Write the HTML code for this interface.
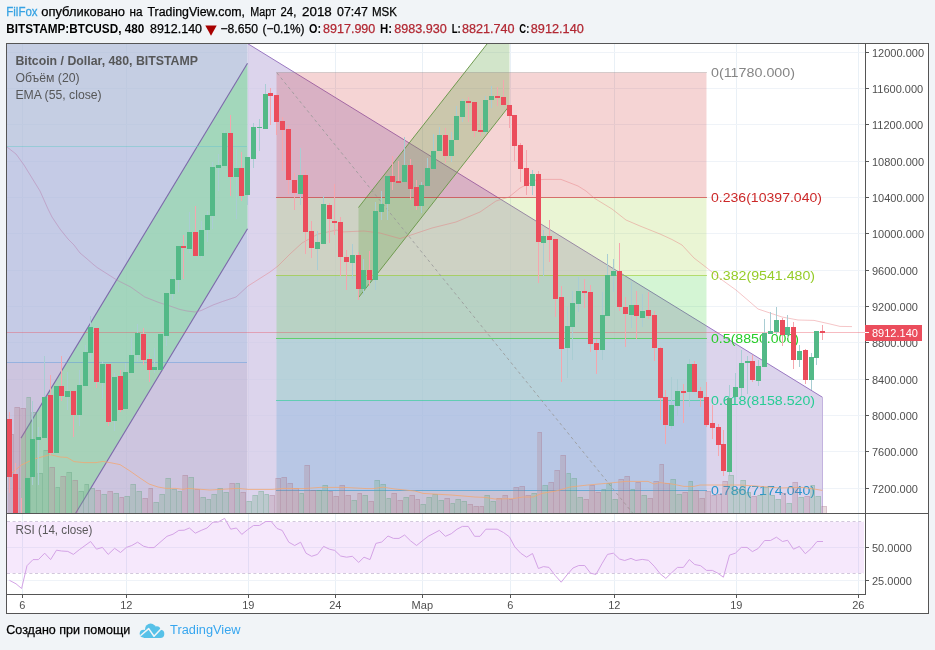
<!DOCTYPE html>
<html><head><meta charset="utf-8"><title>BTCUSD</title>
<style>html,body{margin:0;padding:0;background:#f1f4f7;}body{width:935px;height:650px;overflow:hidden;font-family:"Liberation Sans",sans-serif;}</style></head>
<body>
<svg width="935" height="650" viewBox="0 0 935 650" style="display:block;font-family:'Liberation Sans',sans-serif;opacity:0.999;will-change:transform">
<defs>
<clipPath id="mp"><rect x="7" y="44" width="858" height="469"/></clipPath>
<clipPath id="rp"><rect x="7" y="514" width="858" height="80"/></clipPath>
</defs>
<rect width="935" height="650" fill="#f1f4f7"/>
<rect x="6.5" y="43.5" width="922" height="570" fill="#ffffff" stroke="#555555" stroke-width="1"/>
<g clip-path="url(#mp)">
<g shape-rendering="crispEdges">
<rect x="22" y="44" width="1" height="469" fill="#e9f0f6"/>
<rect x="126" y="44" width="1" height="469" fill="#e9f0f6"/>
<rect x="248" y="44" width="1" height="469" fill="#e9f0f6"/>
<rect x="335" y="44" width="1" height="469" fill="#e9f0f6"/>
<rect x="422" y="44" width="1" height="469" fill="#e9f0f6"/>
<rect x="510" y="44" width="1" height="469" fill="#e9f0f6"/>
<rect x="614" y="44" width="1" height="469" fill="#e9f0f6"/>
<rect x="736" y="44" width="1" height="469" fill="#e9f0f6"/>
<rect x="858" y="44" width="1" height="469" fill="#e9f0f6"/>
<rect x="7" y="52" width="858" height="1" fill="#eff3f8"/>
<rect x="7" y="88" width="858" height="1" fill="#eff3f8"/>
<rect x="7" y="124" width="858" height="1" fill="#eff3f8"/>
<rect x="7" y="161" width="858" height="1" fill="#eff3f8"/>
<rect x="7" y="197" width="858" height="1" fill="#eff3f8"/>
<rect x="7" y="233" width="858" height="1" fill="#eff3f8"/>
<rect x="7" y="270" width="858" height="1" fill="#eff3f8"/>
<rect x="7" y="306" width="858" height="1" fill="#eff3f8"/>
<rect x="7" y="342" width="858" height="1" fill="#eff3f8"/>
<rect x="7" y="379" width="858" height="1" fill="#eff3f8"/>
<rect x="7" y="415" width="858" height="1" fill="#eff3f8"/>
<rect x="7" y="451" width="858" height="1" fill="#eff3f8"/>
<rect x="7" y="488" width="858" height="1" fill="#eff3f8"/>
</g>
<rect x="0" y="0" width="247.5" height="146.5" fill="rgba(172,185,215,0.7)"/>
<rect x="0" y="146.5" width="247.5" height="216" fill="rgba(172,181,219,0.7)"/>
<rect x="0" y="362.5" width="247.5" height="200" fill="rgba(184,172,209,0.7)"/>
<polygon points="247.5,43.5 822.5,397.3 822.5,700 247.5,700" fill="rgba(205,194,228,0.7)"/>
<line x1="247.5" y1="43.5" x2="822.5" y2="397.3" stroke="#9a78c2" stroke-width="1"/>
<line x1="822.5" y1="397.3" x2="822.5" y2="700" stroke="#c3b3df" stroke-width="1"/>
<rect x="276.5" y="72.5" width="430.0" height="125.0" fill="rgba(204,40,40,0.2)"/>
<rect x="276.5" y="197.5" width="430.0" height="78.0" fill="rgba(149,204,40,0.2)"/>
<rect x="276.5" y="275.5" width="430.0" height="63.0" fill="rgba(40,204,40,0.2)"/>
<rect x="276.5" y="338.5" width="430.0" height="62.0" fill="rgba(40,204,149,0.2)"/>
<rect x="276.5" y="400.5" width="430.0" height="90.0" fill="rgba(40,149,204,0.2)"/>
<rect x="276.5" y="490.5" width="430.0" height="114.0" fill="rgba(128,128,128,0.2)"/>
<polygon points="21,438.1 247.5,63.3 247.5,228.8 21,603.7" fill="rgba(129,223,148,0.5)"/>
<polygon points="358.5,207.5 509.5,15.4 509.5,105.6 358.5,297.6" fill="rgba(106,168,79,0.3)"/>
<line x1="21" y1="438.1" x2="247.5" y2="63.3" stroke="#7c69aa" stroke-width="1.1"/>
<line x1="21" y1="603.7" x2="247.5" y2="228.8" stroke="#7c69aa" stroke-width="1.1"/>
<line x1="358.5" y1="207.5" x2="509.5" y2="15.4" stroke="#6f9a4f" stroke-width="1"/>
<line x1="358.5" y1="297.6" x2="509.5" y2="105.6" stroke="#6f9a4f" stroke-width="1"/>
<g shape-rendering="crispEdges">
<rect x="7" y="146" width="240" height="1" fill="rgba(110,195,200,0.55)"/>
<rect x="7" y="362" width="240" height="1" fill="rgba(90,150,215,0.5)"/>
<rect x="276" y="72" width="431" height="1" fill="rgba(128,128,128,0.3)"/>
<rect x="276" y="197" width="431" height="1" fill="rgba(204,40,40,0.6)"/>
<rect x="276" y="275" width="431" height="1" fill="rgba(149,204,40,0.6)"/>
<rect x="276" y="338" width="431" height="1" fill="rgba(40,204,40,0.6)"/>
<rect x="276" y="400" width="431" height="1" fill="rgba(40,204,149,0.6)"/>
<rect x="276" y="490" width="431" height="1" fill="rgba(40,149,204,0.6)"/>
</g>
<line x1="277" y1="73" x2="706.5" y2="604.5" stroke="#9a9a9a" stroke-opacity="0.85" stroke-width="1" stroke-dasharray="3,3"/>
<text x="711" y="76.8" font-size="13px" fill="#858585" textLength="84" lengthAdjust="spacingAndGlyphs">0(11780.000)</text>
<text x="711" y="201.8" font-size="13px" fill="#cc2828" textLength="111" lengthAdjust="spacingAndGlyphs">0.236(10397.040)</text>
<text x="711" y="279.8" font-size="13px" fill="#95cc28" textLength="104" lengthAdjust="spacingAndGlyphs">0.382(9541.480)</text>
<text x="711" y="342.8" font-size="13px" fill="#28cc28" textLength="88" lengthAdjust="spacingAndGlyphs">0.5(8850.000)</text>
<text x="711" y="404.8" font-size="13px" fill="#28cc95" textLength="104" lengthAdjust="spacingAndGlyphs">0.618(8158.520)</text>
<text x="711" y="494.8" font-size="13px" fill="#2895cc" textLength="104" lengthAdjust="spacingAndGlyphs">0.786(7174.040)</text>
<g shape-rendering="crispEdges">
<rect x="8" y="434" width="6" height="79" fill="rgba(178,137,146,0.3)"/>
<path d="M8.5,434.5H13.5V513" fill="none" stroke="rgba(160,100,130,0.22)" stroke-width="1"/>
<rect x="14" y="407" width="6" height="106" fill="rgba(178,137,146,0.3)"/>
<path d="M14.5,407.5H19.5V513" fill="none" stroke="rgba(160,100,130,0.22)" stroke-width="1"/>
<rect x="20" y="408" width="6" height="105" fill="rgba(178,137,146,0.3)"/>
<path d="M20.5,408.5H25.5V513" fill="none" stroke="rgba(160,100,130,0.22)" stroke-width="1"/>
<rect x="26" y="397" width="5" height="116" fill="rgba(115,174,136,0.3)"/>
<path d="M26.5,397.5H30.5V513" fill="none" stroke="rgba(80,150,120,0.22)" stroke-width="1"/>
<rect x="31" y="412" width="6" height="101" fill="rgba(115,174,136,0.3)"/>
<path d="M31.5,412.5H36.5V513" fill="none" stroke="rgba(80,150,120,0.22)" stroke-width="1"/>
<rect x="37" y="473" width="6" height="40" fill="rgba(115,174,136,0.3)"/>
<path d="M37.5,473.5H42.5V513" fill="none" stroke="rgba(80,150,120,0.22)" stroke-width="1"/>
<rect x="43" y="450" width="6" height="63" fill="rgba(115,174,136,0.3)"/>
<path d="M43.5,450.5H48.5V513" fill="none" stroke="rgba(80,150,120,0.22)" stroke-width="1"/>
<rect x="49" y="467" width="6" height="46" fill="rgba(178,137,146,0.3)"/>
<path d="M49.5,467.5H54.5V513" fill="none" stroke="rgba(160,100,130,0.22)" stroke-width="1"/>
<rect x="55" y="487" width="5" height="26" fill="rgba(115,174,136,0.3)"/>
<path d="M55.5,487.5H59.5V513" fill="none" stroke="rgba(80,150,120,0.22)" stroke-width="1"/>
<rect x="60" y="476" width="6" height="37" fill="rgba(178,137,146,0.3)"/>
<path d="M60.5,476.5H65.5V513" fill="none" stroke="rgba(160,100,130,0.22)" stroke-width="1"/>
<rect x="66" y="472" width="6" height="41" fill="rgba(115,174,136,0.3)"/>
<path d="M66.5,472.5H71.5V513" fill="none" stroke="rgba(80,150,120,0.22)" stroke-width="1"/>
<rect x="72" y="480" width="6" height="33" fill="rgba(178,137,146,0.3)"/>
<path d="M72.5,480.5H77.5V513" fill="none" stroke="rgba(160,100,130,0.22)" stroke-width="1"/>
<rect x="78" y="491" width="6" height="22" fill="rgba(115,174,136,0.3)"/>
<path d="M78.5,491.5H83.5V513" fill="none" stroke="rgba(80,150,120,0.22)" stroke-width="1"/>
<rect x="84" y="484" width="5" height="29" fill="rgba(115,174,136,0.3)"/>
<path d="M84.5,484.5H88.5V513" fill="none" stroke="rgba(80,150,120,0.22)" stroke-width="1"/>
<rect x="89" y="488" width="6" height="25" fill="rgba(115,174,136,0.3)"/>
<path d="M89.5,488.5H94.5V513" fill="none" stroke="rgba(80,150,120,0.22)" stroke-width="1"/>
<rect x="95" y="490" width="6" height="23" fill="rgba(178,137,146,0.3)"/>
<path d="M95.5,490.5H100.5V513" fill="none" stroke="rgba(160,100,130,0.22)" stroke-width="1"/>
<rect x="101" y="494" width="6" height="19" fill="rgba(115,174,136,0.3)"/>
<path d="M101.5,494.5H106.5V513" fill="none" stroke="rgba(80,150,120,0.22)" stroke-width="1"/>
<rect x="107" y="491" width="6" height="22" fill="rgba(178,137,146,0.3)"/>
<path d="M107.5,491.5H112.5V513" fill="none" stroke="rgba(160,100,130,0.22)" stroke-width="1"/>
<rect x="113" y="493" width="6" height="20" fill="rgba(115,174,136,0.3)"/>
<path d="M113.5,493.5H118.5V513" fill="none" stroke="rgba(80,150,120,0.22)" stroke-width="1"/>
<rect x="119" y="497" width="5" height="16" fill="rgba(178,137,146,0.3)"/>
<path d="M119.5,497.5H123.5V513" fill="none" stroke="rgba(160,100,130,0.22)" stroke-width="1"/>
<rect x="124" y="496" width="6" height="17" fill="rgba(115,174,136,0.3)"/>
<path d="M124.5,496.5H129.5V513" fill="none" stroke="rgba(80,150,120,0.22)" stroke-width="1"/>
<rect x="130" y="484" width="6" height="29" fill="rgba(115,174,136,0.3)"/>
<path d="M130.5,484.5H135.5V513" fill="none" stroke="rgba(80,150,120,0.22)" stroke-width="1"/>
<rect x="136" y="491" width="6" height="22" fill="rgba(115,174,136,0.3)"/>
<path d="M136.5,491.5H141.5V513" fill="none" stroke="rgba(80,150,120,0.22)" stroke-width="1"/>
<rect x="142" y="498" width="6" height="15" fill="rgba(178,137,146,0.3)"/>
<path d="M142.5,498.5H147.5V513" fill="none" stroke="rgba(160,100,130,0.22)" stroke-width="1"/>
<rect x="148" y="488" width="5" height="25" fill="rgba(178,137,146,0.3)"/>
<path d="M148.5,488.5H152.5V513" fill="none" stroke="rgba(160,100,130,0.22)" stroke-width="1"/>
<rect x="153" y="502" width="6" height="11" fill="rgba(115,174,136,0.3)"/>
<path d="M153.5,502.5H158.5V513" fill="none" stroke="rgba(80,150,120,0.22)" stroke-width="1"/>
<rect x="159" y="494" width="6" height="19" fill="rgba(115,174,136,0.3)"/>
<path d="M159.5,494.5H164.5V513" fill="none" stroke="rgba(80,150,120,0.22)" stroke-width="1"/>
<rect x="165" y="478" width="6" height="35" fill="rgba(115,174,136,0.3)"/>
<path d="M165.5,478.5H170.5V513" fill="none" stroke="rgba(80,150,120,0.22)" stroke-width="1"/>
<rect x="171" y="489" width="6" height="24" fill="rgba(115,174,136,0.3)"/>
<path d="M171.5,489.5H176.5V513" fill="none" stroke="rgba(80,150,120,0.22)" stroke-width="1"/>
<rect x="177" y="491" width="5" height="22" fill="rgba(115,174,136,0.3)"/>
<path d="M177.5,491.5H181.5V513" fill="none" stroke="rgba(80,150,120,0.22)" stroke-width="1"/>
<rect x="182" y="475" width="6" height="38" fill="rgba(178,137,146,0.3)"/>
<path d="M182.5,475.5H187.5V513" fill="none" stroke="rgba(160,100,130,0.22)" stroke-width="1"/>
<rect x="188" y="477" width="6" height="36" fill="rgba(115,174,136,0.3)"/>
<path d="M188.5,477.5H193.5V513" fill="none" stroke="rgba(80,150,120,0.22)" stroke-width="1"/>
<rect x="194" y="489" width="6" height="24" fill="rgba(178,137,146,0.3)"/>
<path d="M194.5,489.5H199.5V513" fill="none" stroke="rgba(160,100,130,0.22)" stroke-width="1"/>
<rect x="200" y="497" width="6" height="16" fill="rgba(115,174,136,0.3)"/>
<path d="M200.5,497.5H205.5V513" fill="none" stroke="rgba(80,150,120,0.22)" stroke-width="1"/>
<rect x="206" y="499" width="5" height="14" fill="rgba(115,174,136,0.3)"/>
<path d="M206.5,499.5H210.5V513" fill="none" stroke="rgba(80,150,120,0.22)" stroke-width="1"/>
<rect x="211" y="494" width="6" height="19" fill="rgba(115,174,136,0.3)"/>
<path d="M211.5,494.5H216.5V513" fill="none" stroke="rgba(80,150,120,0.22)" stroke-width="1"/>
<rect x="217" y="488" width="6" height="25" fill="rgba(115,174,136,0.3)"/>
<path d="M217.5,488.5H222.5V513" fill="none" stroke="rgba(80,150,120,0.22)" stroke-width="1"/>
<rect x="223" y="492" width="6" height="21" fill="rgba(115,174,136,0.3)"/>
<path d="M223.5,492.5H228.5V513" fill="none" stroke="rgba(80,150,120,0.22)" stroke-width="1"/>
<rect x="229" y="483" width="6" height="30" fill="rgba(178,137,146,0.3)"/>
<path d="M229.5,483.5H234.5V513" fill="none" stroke="rgba(160,100,130,0.22)" stroke-width="1"/>
<rect x="235" y="483" width="5" height="30" fill="rgba(115,174,136,0.3)"/>
<path d="M235.5,483.5H239.5V513" fill="none" stroke="rgba(80,150,120,0.22)" stroke-width="1"/>
<rect x="240" y="492" width="6" height="21" fill="rgba(178,137,146,0.3)"/>
<path d="M240.5,492.5H245.5V513" fill="none" stroke="rgba(160,100,130,0.22)" stroke-width="1"/>
<rect x="246" y="501" width="6" height="12" fill="rgba(115,174,136,0.3)"/>
<path d="M246.5,501.5H251.5V513" fill="none" stroke="rgba(80,150,120,0.22)" stroke-width="1"/>
<rect x="252" y="495" width="6" height="18" fill="rgba(115,174,136,0.3)"/>
<path d="M252.5,495.5H257.5V513" fill="none" stroke="rgba(80,150,120,0.22)" stroke-width="1"/>
<rect x="258" y="491" width="6" height="22" fill="rgba(115,174,136,0.3)"/>
<path d="M258.5,491.5H263.5V513" fill="none" stroke="rgba(80,150,120,0.22)" stroke-width="1"/>
<rect x="264" y="494" width="5" height="19" fill="rgba(115,174,136,0.3)"/>
<path d="M264.5,494.5H268.5V513" fill="none" stroke="rgba(80,150,120,0.22)" stroke-width="1"/>
<rect x="269" y="495" width="6" height="18" fill="rgba(178,137,146,0.3)"/>
<path d="M269.5,495.5H274.5V513" fill="none" stroke="rgba(160,100,130,0.22)" stroke-width="1"/>
<rect x="275" y="478" width="6" height="35" fill="rgba(178,137,146,0.3)"/>
<path d="M275.5,478.5H280.5V513" fill="none" stroke="rgba(160,100,130,0.22)" stroke-width="1"/>
<rect x="281" y="477" width="6" height="36" fill="rgba(178,137,146,0.3)"/>
<path d="M281.5,477.5H286.5V513" fill="none" stroke="rgba(160,100,130,0.22)" stroke-width="1"/>
<rect x="287" y="483" width="6" height="30" fill="rgba(178,137,146,0.3)"/>
<path d="M287.5,483.5H292.5V513" fill="none" stroke="rgba(160,100,130,0.22)" stroke-width="1"/>
<rect x="293" y="488" width="6" height="25" fill="rgba(178,137,146,0.3)"/>
<path d="M293.5,488.5H298.5V513" fill="none" stroke="rgba(160,100,130,0.22)" stroke-width="1"/>
<rect x="299" y="493" width="5" height="20" fill="rgba(115,174,136,0.3)"/>
<path d="M299.5,493.5H303.5V513" fill="none" stroke="rgba(80,150,120,0.22)" stroke-width="1"/>
<rect x="304" y="465" width="6" height="48" fill="rgba(178,137,146,0.3)"/>
<path d="M304.5,465.5H309.5V513" fill="none" stroke="rgba(160,100,130,0.22)" stroke-width="1"/>
<rect x="310" y="490" width="6" height="23" fill="rgba(178,137,146,0.3)"/>
<path d="M310.5,490.5H315.5V513" fill="none" stroke="rgba(160,100,130,0.22)" stroke-width="1"/>
<rect x="316" y="490" width="6" height="23" fill="rgba(115,174,136,0.3)"/>
<path d="M316.5,490.5H321.5V513" fill="none" stroke="rgba(80,150,120,0.22)" stroke-width="1"/>
<rect x="322" y="485" width="6" height="28" fill="rgba(115,174,136,0.3)"/>
<path d="M322.5,485.5H327.5V513" fill="none" stroke="rgba(80,150,120,0.22)" stroke-width="1"/>
<rect x="328" y="491" width="5" height="22" fill="rgba(178,137,146,0.3)"/>
<path d="M328.5,491.5H332.5V513" fill="none" stroke="rgba(160,100,130,0.22)" stroke-width="1"/>
<rect x="333" y="496" width="6" height="17" fill="rgba(178,137,146,0.3)"/>
<path d="M333.5,496.5H338.5V513" fill="none" stroke="rgba(160,100,130,0.22)" stroke-width="1"/>
<rect x="339" y="485" width="6" height="28" fill="rgba(178,137,146,0.3)"/>
<path d="M339.5,485.5H344.5V513" fill="none" stroke="rgba(160,100,130,0.22)" stroke-width="1"/>
<rect x="345" y="495" width="6" height="18" fill="rgba(178,137,146,0.3)"/>
<path d="M345.5,495.5H350.5V513" fill="none" stroke="rgba(160,100,130,0.22)" stroke-width="1"/>
<rect x="351" y="500" width="6" height="13" fill="rgba(115,174,136,0.3)"/>
<path d="M351.5,500.5H356.5V513" fill="none" stroke="rgba(80,150,120,0.22)" stroke-width="1"/>
<rect x="357" y="493" width="5" height="20" fill="rgba(178,137,146,0.3)"/>
<path d="M357.5,493.5H361.5V513" fill="none" stroke="rgba(160,100,130,0.22)" stroke-width="1"/>
<rect x="362" y="495" width="6" height="18" fill="rgba(115,174,136,0.3)"/>
<path d="M362.5,495.5H367.5V513" fill="none" stroke="rgba(80,150,120,0.22)" stroke-width="1"/>
<rect x="368" y="501" width="6" height="12" fill="rgba(178,137,146,0.3)"/>
<path d="M368.5,501.5H373.5V513" fill="none" stroke="rgba(160,100,130,0.22)" stroke-width="1"/>
<rect x="374" y="480" width="6" height="33" fill="rgba(115,174,136,0.3)"/>
<path d="M374.5,480.5H379.5V513" fill="none" stroke="rgba(80,150,120,0.22)" stroke-width="1"/>
<rect x="380" y="484" width="6" height="29" fill="rgba(115,174,136,0.3)"/>
<path d="M380.5,484.5H385.5V513" fill="none" stroke="rgba(80,150,120,0.22)" stroke-width="1"/>
<rect x="386" y="498" width="5" height="15" fill="rgba(115,174,136,0.3)"/>
<path d="M386.5,498.5H390.5V513" fill="none" stroke="rgba(80,150,120,0.22)" stroke-width="1"/>
<rect x="391" y="493" width="6" height="20" fill="rgba(178,137,146,0.3)"/>
<path d="M391.5,493.5H396.5V513" fill="none" stroke="rgba(160,100,130,0.22)" stroke-width="1"/>
<rect x="397" y="500" width="6" height="13" fill="rgba(178,137,146,0.3)"/>
<path d="M397.5,500.5H402.5V513" fill="none" stroke="rgba(160,100,130,0.22)" stroke-width="1"/>
<rect x="403" y="497" width="6" height="16" fill="rgba(115,174,136,0.3)"/>
<path d="M403.5,497.5H408.5V513" fill="none" stroke="rgba(80,150,120,0.22)" stroke-width="1"/>
<rect x="409" y="495" width="6" height="18" fill="rgba(178,137,146,0.3)"/>
<path d="M409.5,495.5H414.5V513" fill="none" stroke="rgba(160,100,130,0.22)" stroke-width="1"/>
<rect x="415" y="499" width="5" height="14" fill="rgba(178,137,146,0.3)"/>
<path d="M415.5,499.5H419.5V513" fill="none" stroke="rgba(160,100,130,0.22)" stroke-width="1"/>
<rect x="420" y="504" width="6" height="9" fill="rgba(115,174,136,0.3)"/>
<path d="M420.5,504.5H425.5V513" fill="none" stroke="rgba(80,150,120,0.22)" stroke-width="1"/>
<rect x="426" y="497" width="6" height="16" fill="rgba(115,174,136,0.3)"/>
<path d="M426.5,497.5H431.5V513" fill="none" stroke="rgba(80,150,120,0.22)" stroke-width="1"/>
<rect x="432" y="494" width="6" height="19" fill="rgba(115,174,136,0.3)"/>
<path d="M432.5,494.5H437.5V513" fill="none" stroke="rgba(80,150,120,0.22)" stroke-width="1"/>
<rect x="438" y="500" width="6" height="13" fill="rgba(115,174,136,0.3)"/>
<path d="M438.5,500.5H443.5V513" fill="none" stroke="rgba(80,150,120,0.22)" stroke-width="1"/>
<rect x="444" y="498" width="6" height="15" fill="rgba(178,137,146,0.3)"/>
<path d="M444.5,498.5H449.5V513" fill="none" stroke="rgba(160,100,130,0.22)" stroke-width="1"/>
<rect x="450" y="503" width="5" height="10" fill="rgba(115,174,136,0.3)"/>
<path d="M450.5,503.5H454.5V513" fill="none" stroke="rgba(80,150,120,0.22)" stroke-width="1"/>
<rect x="455" y="499" width="6" height="14" fill="rgba(115,174,136,0.3)"/>
<path d="M455.5,499.5H460.5V513" fill="none" stroke="rgba(80,150,120,0.22)" stroke-width="1"/>
<rect x="461" y="501" width="6" height="12" fill="rgba(115,174,136,0.3)"/>
<path d="M461.5,501.5H466.5V513" fill="none" stroke="rgba(80,150,120,0.22)" stroke-width="1"/>
<rect x="467" y="504" width="6" height="9" fill="rgba(178,137,146,0.3)"/>
<path d="M467.5,504.5H472.5V513" fill="none" stroke="rgba(160,100,130,0.22)" stroke-width="1"/>
<rect x="473" y="506" width="6" height="7" fill="rgba(178,137,146,0.3)"/>
<path d="M473.5,506.5H478.5V513" fill="none" stroke="rgba(160,100,130,0.22)" stroke-width="1"/>
<rect x="479" y="506" width="5" height="7" fill="rgba(178,137,146,0.3)"/>
<path d="M479.5,506.5H483.5V513" fill="none" stroke="rgba(160,100,130,0.22)" stroke-width="1"/>
<rect x="484" y="495" width="6" height="18" fill="rgba(115,174,136,0.3)"/>
<path d="M484.5,495.5H489.5V513" fill="none" stroke="rgba(80,150,120,0.22)" stroke-width="1"/>
<rect x="490" y="501" width="6" height="12" fill="rgba(115,174,136,0.3)"/>
<path d="M490.5,501.5H495.5V513" fill="none" stroke="rgba(80,150,120,0.22)" stroke-width="1"/>
<rect x="496" y="498" width="6" height="15" fill="rgba(178,137,146,0.3)"/>
<path d="M496.5,498.5H501.5V513" fill="none" stroke="rgba(160,100,130,0.22)" stroke-width="1"/>
<rect x="502" y="495" width="6" height="18" fill="rgba(178,137,146,0.3)"/>
<path d="M502.5,495.5H507.5V513" fill="none" stroke="rgba(160,100,130,0.22)" stroke-width="1"/>
<rect x="508" y="499" width="5" height="14" fill="rgba(178,137,146,0.3)"/>
<path d="M508.5,499.5H512.5V513" fill="none" stroke="rgba(160,100,130,0.22)" stroke-width="1"/>
<rect x="513" y="487" width="6" height="26" fill="rgba(178,137,146,0.3)"/>
<path d="M513.5,487.5H518.5V513" fill="none" stroke="rgba(160,100,130,0.22)" stroke-width="1"/>
<rect x="519" y="486" width="6" height="27" fill="rgba(178,137,146,0.3)"/>
<path d="M519.5,486.5H524.5V513" fill="none" stroke="rgba(160,100,130,0.22)" stroke-width="1"/>
<rect x="525" y="495" width="6" height="18" fill="rgba(178,137,146,0.3)"/>
<path d="M525.5,495.5H530.5V513" fill="none" stroke="rgba(160,100,130,0.22)" stroke-width="1"/>
<rect x="531" y="493" width="6" height="20" fill="rgba(115,174,136,0.3)"/>
<path d="M531.5,493.5H536.5V513" fill="none" stroke="rgba(80,150,120,0.22)" stroke-width="1"/>
<rect x="537" y="432" width="5" height="81" fill="rgba(178,137,146,0.3)"/>
<path d="M537.5,432.5H541.5V513" fill="none" stroke="rgba(160,100,130,0.22)" stroke-width="1"/>
<rect x="542" y="485" width="6" height="28" fill="rgba(115,174,136,0.3)"/>
<path d="M542.5,485.5H547.5V513" fill="none" stroke="rgba(80,150,120,0.22)" stroke-width="1"/>
<rect x="548" y="482" width="6" height="31" fill="rgba(178,137,146,0.3)"/>
<path d="M548.5,482.5H553.5V513" fill="none" stroke="rgba(160,100,130,0.22)" stroke-width="1"/>
<rect x="554" y="470" width="6" height="43" fill="rgba(178,137,146,0.3)"/>
<path d="M554.5,470.5H559.5V513" fill="none" stroke="rgba(160,100,130,0.22)" stroke-width="1"/>
<rect x="560" y="455" width="6" height="58" fill="rgba(178,137,146,0.3)"/>
<path d="M560.5,455.5H565.5V513" fill="none" stroke="rgba(160,100,130,0.22)" stroke-width="1"/>
<rect x="566" y="473" width="5" height="40" fill="rgba(115,174,136,0.3)"/>
<path d="M566.5,473.5H570.5V513" fill="none" stroke="rgba(80,150,120,0.22)" stroke-width="1"/>
<rect x="571" y="478" width="6" height="35" fill="rgba(115,174,136,0.3)"/>
<path d="M571.5,478.5H576.5V513" fill="none" stroke="rgba(80,150,120,0.22)" stroke-width="1"/>
<rect x="577" y="497" width="6" height="16" fill="rgba(115,174,136,0.3)"/>
<path d="M577.5,497.5H582.5V513" fill="none" stroke="rgba(80,150,120,0.22)" stroke-width="1"/>
<rect x="583" y="499" width="6" height="14" fill="rgba(178,137,146,0.3)"/>
<path d="M583.5,499.5H588.5V513" fill="none" stroke="rgba(160,100,130,0.22)" stroke-width="1"/>
<rect x="589" y="485" width="6" height="28" fill="rgba(178,137,146,0.3)"/>
<path d="M589.5,485.5H594.5V513" fill="none" stroke="rgba(160,100,130,0.22)" stroke-width="1"/>
<rect x="595" y="492" width="6" height="21" fill="rgba(178,137,146,0.3)"/>
<path d="M595.5,492.5H600.5V513" fill="none" stroke="rgba(160,100,130,0.22)" stroke-width="1"/>
<rect x="601" y="489" width="5" height="24" fill="rgba(115,174,136,0.3)"/>
<path d="M601.5,489.5H605.5V513" fill="none" stroke="rgba(80,150,120,0.22)" stroke-width="1"/>
<rect x="606" y="483" width="6" height="30" fill="rgba(115,174,136,0.3)"/>
<path d="M606.5,483.5H611.5V513" fill="none" stroke="rgba(80,150,120,0.22)" stroke-width="1"/>
<rect x="612" y="499" width="6" height="14" fill="rgba(115,174,136,0.3)"/>
<path d="M612.5,499.5H617.5V513" fill="none" stroke="rgba(80,150,120,0.22)" stroke-width="1"/>
<rect x="618" y="479" width="6" height="34" fill="rgba(178,137,146,0.3)"/>
<path d="M618.5,479.5H623.5V513" fill="none" stroke="rgba(160,100,130,0.22)" stroke-width="1"/>
<rect x="624" y="476" width="6" height="37" fill="rgba(178,137,146,0.3)"/>
<path d="M624.5,476.5H629.5V513" fill="none" stroke="rgba(160,100,130,0.22)" stroke-width="1"/>
<rect x="630" y="489" width="5" height="24" fill="rgba(115,174,136,0.3)"/>
<path d="M630.5,489.5H634.5V513" fill="none" stroke="rgba(80,150,120,0.22)" stroke-width="1"/>
<rect x="635" y="482" width="6" height="31" fill="rgba(178,137,146,0.3)"/>
<path d="M635.5,482.5H640.5V513" fill="none" stroke="rgba(160,100,130,0.22)" stroke-width="1"/>
<rect x="641" y="495" width="6" height="18" fill="rgba(115,174,136,0.3)"/>
<path d="M641.5,495.5H646.5V513" fill="none" stroke="rgba(80,150,120,0.22)" stroke-width="1"/>
<rect x="647" y="498" width="6" height="15" fill="rgba(178,137,146,0.3)"/>
<path d="M647.5,498.5H652.5V513" fill="none" stroke="rgba(160,100,130,0.22)" stroke-width="1"/>
<rect x="653" y="481" width="6" height="32" fill="rgba(178,137,146,0.3)"/>
<path d="M653.5,481.5H658.5V513" fill="none" stroke="rgba(160,100,130,0.22)" stroke-width="1"/>
<rect x="659" y="464" width="5" height="49" fill="rgba(178,137,146,0.3)"/>
<path d="M659.5,464.5H663.5V513" fill="none" stroke="rgba(160,100,130,0.22)" stroke-width="1"/>
<rect x="664" y="483" width="6" height="30" fill="rgba(178,137,146,0.3)"/>
<path d="M664.5,483.5H669.5V513" fill="none" stroke="rgba(160,100,130,0.22)" stroke-width="1"/>
<rect x="670" y="479" width="6" height="34" fill="rgba(115,174,136,0.3)"/>
<path d="M670.5,479.5H675.5V513" fill="none" stroke="rgba(80,150,120,0.22)" stroke-width="1"/>
<rect x="676" y="494" width="6" height="19" fill="rgba(115,174,136,0.3)"/>
<path d="M676.5,494.5H681.5V513" fill="none" stroke="rgba(80,150,120,0.22)" stroke-width="1"/>
<rect x="682" y="492" width="6" height="21" fill="rgba(178,137,146,0.3)"/>
<path d="M682.5,492.5H687.5V513" fill="none" stroke="rgba(160,100,130,0.22)" stroke-width="1"/>
<rect x="688" y="481" width="5" height="32" fill="rgba(115,174,136,0.3)"/>
<path d="M688.5,481.5H692.5V513" fill="none" stroke="rgba(80,150,120,0.22)" stroke-width="1"/>
<rect x="693" y="490" width="6" height="23" fill="rgba(178,137,146,0.3)"/>
<path d="M693.5,490.5H698.5V513" fill="none" stroke="rgba(160,100,130,0.22)" stroke-width="1"/>
<rect x="699" y="498" width="6" height="15" fill="rgba(178,137,146,0.3)"/>
<path d="M699.5,498.5H704.5V513" fill="none" stroke="rgba(160,100,130,0.22)" stroke-width="1"/>
<rect x="705" y="491" width="6" height="22" fill="rgba(178,137,146,0.3)"/>
<path d="M705.5,491.5H710.5V513" fill="none" stroke="rgba(160,100,130,0.22)" stroke-width="1"/>
<rect x="711" y="495" width="6" height="18" fill="rgba(178,137,146,0.3)"/>
<path d="M711.5,495.5H716.5V513" fill="none" stroke="rgba(160,100,130,0.22)" stroke-width="1"/>
<rect x="717" y="494" width="5" height="19" fill="rgba(178,137,146,0.3)"/>
<path d="M717.5,494.5H721.5V513" fill="none" stroke="rgba(160,100,130,0.22)" stroke-width="1"/>
<rect x="722" y="481" width="6" height="32" fill="rgba(178,137,146,0.3)"/>
<path d="M722.5,481.5H727.5V513" fill="none" stroke="rgba(160,100,130,0.22)" stroke-width="1"/>
<rect x="728" y="475" width="6" height="38" fill="rgba(115,174,136,0.3)"/>
<path d="M728.5,475.5H733.5V513" fill="none" stroke="rgba(80,150,120,0.22)" stroke-width="1"/>
<rect x="734" y="489" width="6" height="24" fill="rgba(115,174,136,0.3)"/>
<path d="M734.5,489.5H739.5V513" fill="none" stroke="rgba(80,150,120,0.22)" stroke-width="1"/>
<rect x="740" y="480" width="6" height="33" fill="rgba(115,174,136,0.3)"/>
<path d="M740.5,480.5H745.5V513" fill="none" stroke="rgba(80,150,120,0.22)" stroke-width="1"/>
<rect x="746" y="492" width="5" height="21" fill="rgba(115,174,136,0.3)"/>
<path d="M746.5,492.5H750.5V513" fill="none" stroke="rgba(80,150,120,0.22)" stroke-width="1"/>
<rect x="751" y="496" width="6" height="17" fill="rgba(178,137,146,0.3)"/>
<path d="M751.5,496.5H756.5V513" fill="none" stroke="rgba(160,100,130,0.22)" stroke-width="1"/>
<rect x="757" y="495" width="6" height="18" fill="rgba(115,174,136,0.3)"/>
<path d="M757.5,495.5H762.5V513" fill="none" stroke="rgba(80,150,120,0.22)" stroke-width="1"/>
<rect x="763" y="487" width="6" height="26" fill="rgba(115,174,136,0.3)"/>
<path d="M763.5,487.5H768.5V513" fill="none" stroke="rgba(80,150,120,0.22)" stroke-width="1"/>
<rect x="769" y="495" width="6" height="18" fill="rgba(115,174,136,0.3)"/>
<path d="M769.5,495.5H774.5V513" fill="none" stroke="rgba(80,150,120,0.22)" stroke-width="1"/>
<rect x="775" y="499" width="6" height="14" fill="rgba(115,174,136,0.3)"/>
<path d="M775.5,499.5H780.5V513" fill="none" stroke="rgba(80,150,120,0.22)" stroke-width="1"/>
<rect x="781" y="493" width="5" height="20" fill="rgba(178,137,146,0.3)"/>
<path d="M781.5,493.5H785.5V513" fill="none" stroke="rgba(160,100,130,0.22)" stroke-width="1"/>
<rect x="786" y="503" width="6" height="10" fill="rgba(115,174,136,0.3)"/>
<path d="M786.5,503.5H791.5V513" fill="none" stroke="rgba(80,150,120,0.22)" stroke-width="1"/>
<rect x="792" y="482" width="6" height="31" fill="rgba(178,137,146,0.3)"/>
<path d="M792.5,482.5H797.5V513" fill="none" stroke="rgba(160,100,130,0.22)" stroke-width="1"/>
<rect x="798" y="497" width="6" height="16" fill="rgba(115,174,136,0.3)"/>
<path d="M798.5,497.5H803.5V513" fill="none" stroke="rgba(80,150,120,0.22)" stroke-width="1"/>
<rect x="804" y="496" width="6" height="17" fill="rgba(178,137,146,0.3)"/>
<path d="M804.5,496.5H809.5V513" fill="none" stroke="rgba(160,100,130,0.22)" stroke-width="1"/>
<rect x="810" y="485" width="5" height="28" fill="rgba(115,174,136,0.3)"/>
<path d="M810.5,485.5H814.5V513" fill="none" stroke="rgba(80,150,120,0.22)" stroke-width="1"/>
<rect x="815" y="496" width="6" height="17" fill="rgba(115,174,136,0.3)"/>
<path d="M815.5,496.5H820.5V513" fill="none" stroke="rgba(80,150,120,0.22)" stroke-width="1"/>
<rect x="821" y="506" width="6" height="7" fill="rgba(178,137,146,0.3)"/>
<path d="M821.5,506.5H826.5V513" fill="none" stroke="rgba(160,100,130,0.22)" stroke-width="1"/>
</g>
<polyline fill="none" stroke="#f2a672" stroke-opacity="0.78" stroke-width="1" points="9.4,475 21.4,465 33,459.4 50,454.6 60,457 67,457.4 74,461.6 84,462.6 96,462.6 103,461.4 112,463 120,464.6 130,471 140,478 149,484 158,487 166,488.4 176,488.4 183,489.4 188,488.4 210,490 238,488.4 248,489.4 272,489.4 284,488.4 304,488.6 320,487.4 344,487.4 367,488.6 373,488.6 383,487.2 395,489 415,491 423,493.4 451,495 475,497 485,497.4 495,499 513,498.6 523,497 533,497 542,493.4 556,491 570,487 588,485 610,483 626,481.4 648,481.4 654,484 660,482.6 672,484 684,486.4 694,486.4 700,485 710,485 740,485 756,486 780,488 802,487.4 814,489 822.4,490.4"/>
<clipPath id="cl"><rect x="0" y="0" width="247.5" height="650"/></clipPath><clipPath id="cr"><rect x="247.5" y="0" width="700" height="650"/></clipPath>
<polyline clip-path="url(#cl)" fill="none" stroke="rgba(185,130,175,0.5)" stroke-width="1" points="7,147 9,148.6 16,154 24,165 32,178 40,191 48,209 52,217 60,229 68,239 74,245 80,253 86,258 94,265 97.3,267.6 116.8,280 130.7,287 144.6,296.9 158.5,302.4 170,306 180,309.5 187,311 195,312 201,310.6 213,305 222.5,301.5 236,297 248,286 270,272 278,266 290,254 302,243 318,234 337,230 340,232 364,231 380,233 400,238.6 408,236 432,228 456,222 480,212 496,201 509,197 520,188 536,180 544,179.4 561,179.4 578,186 586,191 594,198 612,209 626,220 640,226 660,234 672,239.5 682,245 694,258 707,268 720,278.5 736,290 750,302 758,309 770,313 782,317 798,320 814,320.4 830,324 840,326.4 852,326.6"/>
<polyline clip-path="url(#cr)" fill="none" stroke="rgba(230,120,125,0.42)" stroke-width="1" points="7,147 9,148.6 16,154 24,165 32,178 40,191 48,209 52,217 60,229 68,239 74,245 80,253 86,258 94,265 97.3,267.6 116.8,280 130.7,287 144.6,296.9 158.5,302.4 170,306 180,309.5 187,311 195,312 201,310.6 213,305 222.5,301.5 236,297 248,286 270,272 278,266 290,254 302,243 318,234 337,230 340,232 364,231 380,233 400,238.6 408,236 432,228 456,222 480,212 496,201 509,197 520,188 536,180 544,179.4 561,179.4 578,186 586,191 594,198 612,209 626,220 640,226 660,234 672,239.5 682,245 694,258 707,268 720,278.5 736,290 750,302 758,309 770,313 782,317 798,320 814,320.4 830,324 840,326.4 852,326.6"/>
<rect x="7" y="332" width="858" height="1" fill="rgba(235,77,92,0.38)" shape-rendering="crispEdges"/>
<g shape-rendering="crispEdges">
<rect x="9" y="412" width="1" height="81" fill="#f5a6ae"/>
<rect x="7" y="419" width="5" height="58" fill="#eb4d5c"/>
<rect x="15" y="463" width="1" height="57" fill="#f5a6ae"/>
<rect x="13" y="474" width="5" height="46" fill="#eb4d5c"/>
<rect x="21" y="498" width="1" height="22" fill="#f5a6ae"/>
<rect x="19" y="515" width="5" height="5" fill="#eb4d5c"/>
<rect x="27" y="478" width="1" height="42" fill="#a9cdd3"/>
<rect x="25" y="478" width="5" height="42" fill="#53b987"/>
<rect x="32" y="401" width="1" height="84" fill="#a9cdd3"/>
<rect x="30" y="439" width="5" height="38" fill="#53b987"/>
<rect x="38" y="427" width="1" height="58" fill="#a9cdd3"/>
<rect x="36" y="437" width="5" height="3" fill="#53b987"/>
<rect x="44" y="356" width="1" height="82" fill="#a9cdd3"/>
<rect x="42" y="397" width="5" height="41" fill="#53b987"/>
<rect x="50" y="375" width="1" height="80" fill="#f5a6ae"/>
<rect x="48" y="395" width="5" height="58" fill="#eb4d5c"/>
<rect x="56" y="386" width="1" height="67" fill="#a9cdd3"/>
<rect x="54" y="386" width="5" height="67" fill="#53b987"/>
<rect x="61" y="356" width="1" height="45" fill="#f5a6ae"/>
<rect x="59" y="386" width="5" height="10" fill="#eb4d5c"/>
<rect x="67" y="372" width="1" height="38" fill="#a9cdd3"/>
<rect x="65" y="391" width="5" height="6" fill="#53b987"/>
<rect x="73" y="391" width="1" height="46" fill="#f5a6ae"/>
<rect x="71" y="391" width="5" height="24" fill="#eb4d5c"/>
<rect x="79" y="370" width="1" height="56" fill="#a9cdd3"/>
<rect x="77" y="385" width="5" height="30" fill="#53b987"/>
<rect x="85" y="345" width="1" height="41" fill="#a9cdd3"/>
<rect x="83" y="352" width="5" height="34" fill="#53b987"/>
<rect x="90" y="316" width="1" height="43" fill="#a9cdd3"/>
<rect x="88" y="327" width="5" height="26" fill="#53b987"/>
<rect x="96" y="328" width="1" height="60" fill="#f5a6ae"/>
<rect x="94" y="328" width="5" height="54" fill="#eb4d5c"/>
<rect x="102" y="361" width="1" height="38" fill="#a9cdd3"/>
<rect x="100" y="364" width="5" height="19" fill="#53b987"/>
<rect x="108" y="364" width="1" height="62" fill="#f5a6ae"/>
<rect x="106" y="364" width="5" height="58" fill="#eb4d5c"/>
<rect x="114" y="373" width="1" height="58" fill="#a9cdd3"/>
<rect x="112" y="377" width="5" height="44" fill="#53b987"/>
<rect x="120" y="370" width="1" height="42" fill="#f5a6ae"/>
<rect x="118" y="376" width="5" height="34" fill="#eb4d5c"/>
<rect x="125" y="363" width="1" height="46" fill="#a9cdd3"/>
<rect x="123" y="372" width="5" height="37" fill="#53b987"/>
<rect x="131" y="338" width="1" height="35" fill="#a9cdd3"/>
<rect x="129" y="355" width="5" height="18" fill="#53b987"/>
<rect x="137" y="324" width="1" height="37" fill="#a9cdd3"/>
<rect x="135" y="333" width="5" height="22" fill="#53b987"/>
<rect x="143" y="328" width="1" height="37" fill="#f5a6ae"/>
<rect x="141" y="334" width="5" height="26" fill="#eb4d5c"/>
<rect x="149" y="354" width="1" height="28" fill="#f5a6ae"/>
<rect x="147" y="359" width="5" height="11" fill="#eb4d5c"/>
<rect x="154" y="348" width="1" height="25" fill="#a9cdd3"/>
<rect x="152" y="367" width="5" height="3" fill="#53b987"/>
<rect x="160" y="334" width="1" height="36" fill="#a9cdd3"/>
<rect x="158" y="334" width="5" height="36" fill="#53b987"/>
<rect x="166" y="293" width="1" height="53" fill="#a9cdd3"/>
<rect x="164" y="293" width="5" height="43" fill="#53b987"/>
<rect x="172" y="276" width="1" height="24" fill="#a9cdd3"/>
<rect x="170" y="279" width="5" height="15" fill="#53b987"/>
<rect x="178" y="246" width="1" height="46" fill="#a9cdd3"/>
<rect x="176" y="246" width="5" height="34" fill="#53b987"/>
<rect x="183" y="235" width="1" height="44" fill="#f5a6ae"/>
<rect x="181" y="246" width="5" height="2" fill="#eb4d5c"/>
<rect x="189" y="212" width="1" height="41" fill="#a9cdd3"/>
<rect x="187" y="232" width="5" height="17" fill="#53b987"/>
<rect x="195" y="206" width="1" height="50" fill="#f5a6ae"/>
<rect x="193" y="232" width="5" height="24" fill="#eb4d5c"/>
<rect x="201" y="221" width="1" height="37" fill="#a9cdd3"/>
<rect x="199" y="230" width="5" height="26" fill="#53b987"/>
<rect x="207" y="211" width="1" height="31" fill="#a9cdd3"/>
<rect x="205" y="215" width="5" height="15" fill="#53b987"/>
<rect x="212" y="162" width="1" height="67" fill="#a9cdd3"/>
<rect x="210" y="167" width="5" height="49" fill="#53b987"/>
<rect x="218" y="154" width="1" height="37" fill="#a9cdd3"/>
<rect x="216" y="165" width="5" height="3" fill="#53b987"/>
<rect x="224" y="130" width="1" height="36" fill="#a9cdd3"/>
<rect x="222" y="133" width="5" height="33" fill="#53b987"/>
<rect x="230" y="115" width="1" height="81" fill="#f5a6ae"/>
<rect x="228" y="133" width="5" height="44" fill="#eb4d5c"/>
<rect x="236" y="149" width="1" height="70" fill="#a9cdd3"/>
<rect x="234" y="168" width="5" height="9" fill="#53b987"/>
<rect x="241" y="152" width="1" height="49" fill="#f5a6ae"/>
<rect x="239" y="168" width="5" height="28" fill="#eb4d5c"/>
<rect x="247" y="157" width="1" height="48" fill="#a9cdd3"/>
<rect x="245" y="157" width="5" height="38" fill="#53b987"/>
<rect x="253" y="123" width="1" height="45" fill="#a9cdd3"/>
<rect x="251" y="127" width="5" height="32" fill="#53b987"/>
<rect x="259" y="119" width="1" height="32" fill="#a9cdd3"/>
<rect x="257" y="127" width="5" height="1" fill="#53b987"/>
<rect x="265" y="84" width="1" height="45" fill="#a9cdd3"/>
<rect x="263" y="94" width="5" height="35" fill="#53b987"/>
<rect x="270" y="88" width="1" height="37" fill="#f5a6ae"/>
<rect x="268" y="93" width="5" height="3" fill="#eb4d5c"/>
<rect x="276" y="95" width="1" height="40" fill="#f5a6ae"/>
<rect x="274" y="95" width="5" height="27" fill="#eb4d5c"/>
<rect x="282" y="117" width="1" height="54" fill="#f5a6ae"/>
<rect x="280" y="121" width="5" height="9" fill="#eb4d5c"/>
<rect x="288" y="125" width="1" height="69" fill="#f5a6ae"/>
<rect x="286" y="129" width="5" height="51" fill="#eb4d5c"/>
<rect x="294" y="173" width="1" height="37" fill="#f5a6ae"/>
<rect x="292" y="180" width="5" height="13" fill="#eb4d5c"/>
<rect x="300" y="148" width="1" height="57" fill="#a9cdd3"/>
<rect x="298" y="175" width="5" height="19" fill="#53b987"/>
<rect x="305" y="170" width="1" height="84" fill="#f5a6ae"/>
<rect x="303" y="175" width="5" height="57" fill="#eb4d5c"/>
<rect x="311" y="221" width="1" height="37" fill="#f5a6ae"/>
<rect x="309" y="231" width="5" height="17" fill="#eb4d5c"/>
<rect x="317" y="231" width="1" height="39" fill="#a9cdd3"/>
<rect x="315" y="242" width="5" height="7" fill="#53b987"/>
<rect x="323" y="196" width="1" height="48" fill="#a9cdd3"/>
<rect x="321" y="204" width="5" height="40" fill="#53b987"/>
<rect x="329" y="203" width="1" height="40" fill="#f5a6ae"/>
<rect x="327" y="205" width="5" height="14" fill="#eb4d5c"/>
<rect x="334" y="184" width="1" height="51" fill="#f5a6ae"/>
<rect x="332" y="221" width="5" height="2" fill="#eb4d5c"/>
<rect x="340" y="217" width="1" height="59" fill="#f5a6ae"/>
<rect x="338" y="222" width="5" height="35" fill="#eb4d5c"/>
<rect x="346" y="250" width="1" height="40" fill="#f5a6ae"/>
<rect x="344" y="257" width="5" height="5" fill="#eb4d5c"/>
<rect x="352" y="244" width="1" height="35" fill="#a9cdd3"/>
<rect x="350" y="255" width="5" height="8" fill="#53b987"/>
<rect x="358" y="252" width="1" height="48" fill="#f5a6ae"/>
<rect x="356" y="255" width="5" height="34" fill="#eb4d5c"/>
<rect x="363" y="259" width="1" height="36" fill="#a9cdd3"/>
<rect x="361" y="270" width="5" height="19" fill="#53b987"/>
<rect x="369" y="251" width="1" height="35" fill="#f5a6ae"/>
<rect x="367" y="270" width="5" height="10" fill="#eb4d5c"/>
<rect x="375" y="202" width="1" height="88" fill="#a9cdd3"/>
<rect x="373" y="211" width="5" height="69" fill="#53b987"/>
<rect x="381" y="191" width="1" height="29" fill="#a9cdd3"/>
<rect x="379" y="204" width="5" height="8" fill="#53b987"/>
<rect x="387" y="176" width="1" height="44" fill="#a9cdd3"/>
<rect x="385" y="176" width="5" height="28" fill="#53b987"/>
<rect x="392" y="156" width="1" height="34" fill="#f5a6ae"/>
<rect x="390" y="176" width="5" height="6" fill="#eb4d5c"/>
<rect x="398" y="161" width="1" height="22" fill="#f5a6ae"/>
<rect x="396" y="181" width="5" height="2" fill="#eb4d5c"/>
<rect x="404" y="137" width="1" height="45" fill="#a9cdd3"/>
<rect x="402" y="165" width="5" height="17" fill="#53b987"/>
<rect x="410" y="159" width="1" height="41" fill="#f5a6ae"/>
<rect x="408" y="165" width="5" height="24" fill="#eb4d5c"/>
<rect x="416" y="180" width="1" height="30" fill="#f5a6ae"/>
<rect x="414" y="187" width="5" height="19" fill="#eb4d5c"/>
<rect x="421" y="182" width="1" height="31" fill="#a9cdd3"/>
<rect x="419" y="185" width="5" height="21" fill="#53b987"/>
<rect x="427" y="158" width="1" height="28" fill="#a9cdd3"/>
<rect x="425" y="168" width="5" height="18" fill="#53b987"/>
<rect x="433" y="134" width="1" height="35" fill="#a9cdd3"/>
<rect x="431" y="151" width="5" height="18" fill="#53b987"/>
<rect x="439" y="127" width="1" height="24" fill="#a9cdd3"/>
<rect x="437" y="135" width="5" height="16" fill="#53b987"/>
<rect x="445" y="128" width="1" height="35" fill="#f5a6ae"/>
<rect x="443" y="135" width="5" height="21" fill="#eb4d5c"/>
<rect x="451" y="132" width="1" height="30" fill="#a9cdd3"/>
<rect x="449" y="140" width="5" height="16" fill="#53b987"/>
<rect x="456" y="106" width="1" height="34" fill="#a9cdd3"/>
<rect x="454" y="116" width="5" height="24" fill="#53b987"/>
<rect x="462" y="99" width="1" height="23" fill="#a9cdd3"/>
<rect x="460" y="101" width="5" height="16" fill="#53b987"/>
<rect x="468" y="97" width="1" height="25" fill="#f5a6ae"/>
<rect x="466" y="101" width="5" height="2" fill="#eb4d5c"/>
<rect x="474" y="102" width="1" height="35" fill="#f5a6ae"/>
<rect x="472" y="102" width="5" height="29" fill="#eb4d5c"/>
<rect x="480" y="119" width="1" height="17" fill="#f5a6ae"/>
<rect x="478" y="130" width="5" height="2" fill="#eb4d5c"/>
<rect x="485" y="96" width="1" height="38" fill="#a9cdd3"/>
<rect x="483" y="100" width="5" height="32" fill="#53b987"/>
<rect x="491" y="86" width="1" height="22" fill="#a9cdd3"/>
<rect x="489" y="96" width="5" height="4" fill="#53b987"/>
<rect x="497" y="87" width="1" height="19" fill="#f5a6ae"/>
<rect x="495" y="96" width="5" height="2" fill="#eb4d5c"/>
<rect x="503" y="80" width="1" height="25" fill="#f5a6ae"/>
<rect x="501" y="97" width="5" height="8" fill="#eb4d5c"/>
<rect x="509" y="105" width="1" height="23" fill="#f5a6ae"/>
<rect x="507" y="105" width="5" height="11" fill="#eb4d5c"/>
<rect x="514" y="115" width="1" height="46" fill="#f5a6ae"/>
<rect x="512" y="115" width="5" height="31" fill="#eb4d5c"/>
<rect x="520" y="143" width="1" height="39" fill="#f5a6ae"/>
<rect x="518" y="145" width="5" height="24" fill="#eb4d5c"/>
<rect x="526" y="150" width="1" height="45" fill="#f5a6ae"/>
<rect x="524" y="168" width="5" height="18" fill="#eb4d5c"/>
<rect x="532" y="170" width="1" height="25" fill="#a9cdd3"/>
<rect x="530" y="174" width="5" height="12" fill="#53b987"/>
<rect x="538" y="171" width="1" height="112" fill="#f5a6ae"/>
<rect x="536" y="174" width="5" height="68" fill="#eb4d5c"/>
<rect x="543" y="230" width="1" height="46" fill="#a9cdd3"/>
<rect x="541" y="236" width="5" height="7" fill="#53b987"/>
<rect x="549" y="220" width="1" height="42" fill="#f5a6ae"/>
<rect x="547" y="236" width="5" height="4" fill="#eb4d5c"/>
<rect x="555" y="239" width="1" height="78" fill="#f5a6ae"/>
<rect x="553" y="239" width="5" height="60" fill="#eb4d5c"/>
<rect x="561" y="286" width="1" height="96" fill="#f5a6ae"/>
<rect x="559" y="297" width="5" height="52" fill="#eb4d5c"/>
<rect x="567" y="307" width="1" height="71" fill="#a9cdd3"/>
<rect x="565" y="326" width="5" height="22" fill="#53b987"/>
<rect x="572" y="291" width="1" height="69" fill="#a9cdd3"/>
<rect x="570" y="303" width="5" height="24" fill="#53b987"/>
<rect x="578" y="277" width="1" height="35" fill="#a9cdd3"/>
<rect x="576" y="291" width="5" height="13" fill="#53b987"/>
<rect x="584" y="279" width="1" height="29" fill="#f5a6ae"/>
<rect x="582" y="291" width="5" height="2" fill="#eb4d5c"/>
<rect x="590" y="285" width="1" height="67" fill="#f5a6ae"/>
<rect x="588" y="292" width="5" height="52" fill="#eb4d5c"/>
<rect x="596" y="339" width="1" height="35" fill="#f5a6ae"/>
<rect x="594" y="343" width="5" height="7" fill="#eb4d5c"/>
<rect x="602" y="292" width="1" height="68" fill="#a9cdd3"/>
<rect x="600" y="315" width="5" height="35" fill="#53b987"/>
<rect x="607" y="254" width="1" height="62" fill="#a9cdd3"/>
<rect x="605" y="275" width="5" height="41" fill="#53b987"/>
<rect x="613" y="259" width="1" height="33" fill="#a9cdd3"/>
<rect x="611" y="271" width="5" height="5" fill="#53b987"/>
<rect x="619" y="243" width="1" height="68" fill="#f5a6ae"/>
<rect x="617" y="271" width="5" height="36" fill="#eb4d5c"/>
<rect x="625" y="297" width="1" height="50" fill="#f5a6ae"/>
<rect x="623" y="307" width="5" height="7" fill="#eb4d5c"/>
<rect x="631" y="282" width="1" height="46" fill="#a9cdd3"/>
<rect x="629" y="305" width="5" height="10" fill="#53b987"/>
<rect x="636" y="291" width="1" height="48" fill="#f5a6ae"/>
<rect x="634" y="305" width="5" height="11" fill="#eb4d5c"/>
<rect x="642" y="294" width="1" height="33" fill="#a9cdd3"/>
<rect x="640" y="311" width="5" height="7" fill="#53b987"/>
<rect x="648" y="292" width="1" height="27" fill="#f5a6ae"/>
<rect x="646" y="310" width="5" height="6" fill="#eb4d5c"/>
<rect x="654" y="311" width="1" height="50" fill="#f5a6ae"/>
<rect x="652" y="315" width="5" height="33" fill="#eb4d5c"/>
<rect x="660" y="347" width="1" height="73" fill="#f5a6ae"/>
<rect x="658" y="348" width="5" height="50" fill="#eb4d5c"/>
<rect x="665" y="390" width="1" height="54" fill="#f5a6ae"/>
<rect x="663" y="397" width="5" height="28" fill="#eb4d5c"/>
<rect x="671" y="377" width="1" height="52" fill="#a9cdd3"/>
<rect x="669" y="405" width="5" height="21" fill="#53b987"/>
<rect x="677" y="379" width="1" height="37" fill="#a9cdd3"/>
<rect x="675" y="391" width="5" height="15" fill="#53b987"/>
<rect x="683" y="384" width="1" height="39" fill="#f5a6ae"/>
<rect x="681" y="391" width="5" height="2" fill="#eb4d5c"/>
<rect x="689" y="359" width="1" height="48" fill="#a9cdd3"/>
<rect x="687" y="364" width="5" height="28" fill="#53b987"/>
<rect x="694" y="361" width="1" height="31" fill="#f5a6ae"/>
<rect x="692" y="364" width="5" height="28" fill="#eb4d5c"/>
<rect x="700" y="387" width="1" height="20" fill="#f5a6ae"/>
<rect x="698" y="391" width="5" height="7" fill="#eb4d5c"/>
<rect x="706" y="382" width="1" height="45" fill="#f5a6ae"/>
<rect x="704" y="397" width="5" height="28" fill="#eb4d5c"/>
<rect x="712" y="405" width="1" height="34" fill="#f5a6ae"/>
<rect x="710" y="423" width="5" height="5" fill="#eb4d5c"/>
<rect x="718" y="424" width="1" height="32" fill="#f5a6ae"/>
<rect x="716" y="427" width="5" height="18" fill="#eb4d5c"/>
<rect x="723" y="430" width="1" height="46" fill="#f5a6ae"/>
<rect x="721" y="444" width="5" height="27" fill="#eb4d5c"/>
<rect x="729" y="385" width="1" height="90" fill="#a9cdd3"/>
<rect x="727" y="398" width="5" height="74" fill="#53b987"/>
<rect x="735" y="373" width="1" height="24" fill="#a9cdd3"/>
<rect x="733" y="387" width="5" height="10" fill="#53b987"/>
<rect x="741" y="350" width="1" height="46" fill="#a9cdd3"/>
<rect x="739" y="363" width="5" height="25" fill="#53b987"/>
<rect x="747" y="356" width="1" height="38" fill="#a9cdd3"/>
<rect x="745" y="361" width="5" height="2" fill="#53b987"/>
<rect x="752" y="355" width="1" height="27" fill="#f5a6ae"/>
<rect x="750" y="361" width="5" height="19" fill="#eb4d5c"/>
<rect x="758" y="360" width="1" height="26" fill="#a9cdd3"/>
<rect x="756" y="366" width="5" height="15" fill="#53b987"/>
<rect x="764" y="319" width="1" height="48" fill="#a9cdd3"/>
<rect x="762" y="333" width="5" height="34" fill="#53b987"/>
<rect x="770" y="312" width="1" height="22" fill="#a9cdd3"/>
<rect x="768" y="331" width="5" height="3" fill="#53b987"/>
<rect x="776" y="307" width="1" height="28" fill="#a9cdd3"/>
<rect x="774" y="320" width="5" height="12" fill="#53b987"/>
<rect x="782" y="318" width="1" height="28" fill="#f5a6ae"/>
<rect x="780" y="320" width="5" height="15" fill="#eb4d5c"/>
<rect x="787" y="315" width="1" height="23" fill="#a9cdd3"/>
<rect x="785" y="327" width="5" height="8" fill="#53b987"/>
<rect x="793" y="322" width="1" height="47" fill="#f5a6ae"/>
<rect x="791" y="327" width="5" height="33" fill="#eb4d5c"/>
<rect x="799" y="345" width="1" height="22" fill="#a9cdd3"/>
<rect x="797" y="351" width="5" height="9" fill="#53b987"/>
<rect x="805" y="349" width="1" height="35" fill="#f5a6ae"/>
<rect x="803" y="350" width="5" height="30" fill="#eb4d5c"/>
<rect x="811" y="353" width="1" height="37" fill="#a9cdd3"/>
<rect x="809" y="357" width="5" height="23" fill="#53b987"/>
<rect x="816" y="331" width="1" height="34" fill="#a9cdd3"/>
<rect x="814" y="331" width="5" height="27" fill="#53b987"/>
<rect x="822" y="325" width="1" height="15" fill="#f5a6ae"/>
<rect x="820" y="331" width="5" height="2" fill="#eb4d5c"/>
</g>
<g fill="#4d4d4d" fill-opacity="0.93" font-size="12.5px">
<text x="15.4" y="65" font-weight="bold" textLength="182.6" lengthAdjust="spacingAndGlyphs">Bitcoin / Dollar, 480, BITSTAMP</text>
<text x="15.4" y="81.9" textLength="64.2" lengthAdjust="spacingAndGlyphs">Объём (20)</text>
<text x="15.4" y="98.5" textLength="86.3" lengthAdjust="spacingAndGlyphs">EMA (55, close)</text>
</g>
</g>
<g shape-rendering="crispEdges" fill="#555555">
<rect x="7" y="513" width="922" height="1"/>
<rect x="7" y="594" width="859" height="1"/>
<rect x="865" y="44" width="1" height="551"/>
</g>
<g clip-path="url(#rp)">
<g shape-rendering="crispEdges">
<rect x="22" y="514" width="1" height="80" fill="#e9f0f6"/>
<rect x="126" y="514" width="1" height="80" fill="#e9f0f6"/>
<rect x="248" y="514" width="1" height="80" fill="#e9f0f6"/>
<rect x="335" y="514" width="1" height="80" fill="#e9f0f6"/>
<rect x="422" y="514" width="1" height="80" fill="#e9f0f6"/>
<rect x="510" y="514" width="1" height="80" fill="#e9f0f6"/>
<rect x="614" y="514" width="1" height="80" fill="#e9f0f6"/>
<rect x="736" y="514" width="1" height="80" fill="#e9f0f6"/>
<rect x="858" y="514" width="1" height="80" fill="#e9f0f6"/>
<rect x="7" y="547" width="858" height="1" fill="#eff3f8"/>
<rect x="7" y="580" width="858" height="1" fill="#eff3f8"/>
<rect x="7" y="522" width="857" height="51" fill="rgba(200,120,240,0.17)"/>
</g>
<line x1="7" y1="521.5" x2="864" y2="521.5" stroke="#d2c8dc" stroke-width="1" stroke-dasharray="3,2.6"/>
<line x1="7" y1="573.5" x2="864" y2="573.5" stroke="#d2c8dc" stroke-width="1" stroke-dasharray="3,2.6"/>
<polyline fill="none" stroke="#d4a3e6" stroke-width="1" points="9.4,580.3 16,583.8 21.6,588.5 27,565.7 33,559.6 38.4,559.6 44.7,553.2 50.6,559.6 56.5,550.2 61.6,551 67.8,551.4 73.4,554.4 79.3,549.7 90.6,541.5 96.5,549.2 102.4,547.4 108.2,554.4 114.6,548.3 120.5,552.5 126.4,547.4 131.8,545.5 137.6,542.2 143.5,546.2 148.7,547.6 154,547.6 167,536.3 173,534.2 178.8,530.4 184.2,530.2 189.4,528 195.3,533.2 201.2,530.4 207,528 213,522.2 218.2,522 224.6,518.4 230.7,529.2 236.4,528 241.8,534.4 247.6,529.7 253.5,525.5 259.4,525.5 265.8,521.5 271.2,521.5 277,528.5 282.2,530.4 288.8,542.2 294.7,545.5 300.6,542.2 306,553.2 311.6,556.3 317.5,554.4 323.6,546.4 329.5,549.2 334.7,550.4 340.6,556 346.5,557.2 352.4,556.3 358.7,562.4 364,557.2 370,559.6 375.9,543.4 381.8,542 388,536 393.5,538.4 399,538.4 404.6,535 410.5,540.8 416.6,545.5 423,540.3 428.2,536.3 439.3,530.4 445.4,536.3 451.3,533.7 457,529.2 462.4,526.4 468.2,526.4 474.6,536.3 480,536.3 485.9,529.2 497.2,529.2 503.5,532.5 509.4,536.8 514.8,546.9 520.7,553.2 526.6,557.2 532.5,553.5 538.4,568.5 543.5,566.6 549,567.4 555.3,575.6 561.2,582.2 567,574.9 573,568 578.8,565.5 584.7,565.5 590.6,573.2 596,574.4 601.9,563.8 607.5,554.4 613.4,553.2 619.5,559 624.7,560.5 631,558.4 635.9,560.5 642.2,559.4 648.4,560.3 654.2,566.2 660.1,573.7 665.8,578.4 671.6,572.8 677.5,567.4 683.4,567.4 689.3,559.6 694.7,564.5 700.6,565.7 706.5,570.4 712.4,570.4 717.8,573.2 723.4,577.2 729.5,555.1 735.4,553.2 741.3,547.4 747,547.4 752.4,551.6 758.2,548.5 764.6,540.5 770.5,540.5 776.4,537.2 782.5,541.5 787.6,540.3 793.5,549.2 799.4,546.4 805.3,553.7 811.2,548.5 817,541.5 823,541.5"/>
<text x="15.4" y="534.4" font-size="12.5px" fill="#4d4d4d" fill-opacity="0.93" textLength="77" lengthAdjust="spacingAndGlyphs">RSI (14, close)</text>
</g>
<g font-size="11px" fill="#4f4f4f">
<g shape-rendering="crispEdges" fill="#555555">
<rect x="866" y="52" width="3" height="1"/>
<rect x="866" y="88" width="3" height="1"/>
<rect x="866" y="124" width="3" height="1"/>
<rect x="866" y="161" width="3" height="1"/>
<rect x="866" y="197" width="3" height="1"/>
<rect x="866" y="233" width="3" height="1"/>
<rect x="866" y="270" width="3" height="1"/>
<rect x="866" y="306" width="3" height="1"/>
<rect x="866" y="342" width="3" height="1"/>
<rect x="866" y="379" width="3" height="1"/>
<rect x="866" y="415" width="3" height="1"/>
<rect x="866" y="451" width="3" height="1"/>
<rect x="866" y="488" width="3" height="1"/>
<rect x="866" y="547" width="3" height="1"/>
<rect x="866" y="580" width="3" height="1"/>
<rect x="22" y="595" width="1" height="3"/>
<rect x="126" y="595" width="1" height="3"/>
<rect x="248" y="595" width="1" height="3"/>
<rect x="335" y="595" width="1" height="3"/>
<rect x="422" y="595" width="1" height="3"/>
<rect x="510" y="595" width="1" height="3"/>
<rect x="614" y="595" width="1" height="3"/>
<rect x="736" y="595" width="1" height="3"/>
<rect x="858" y="595" width="1" height="3"/>
</g>
<text x="872" y="56.8">12000.000</text>
<text x="872" y="92.8">11600.000</text>
<text x="872" y="128.8">11200.000</text>
<text x="872" y="165.8">10800.000</text>
<text x="872" y="201.8">10400.000</text>
<text x="872" y="237.8">10000.000</text>
<text x="872" y="274.8">9600.000</text>
<text x="872" y="310.8">9200.000</text>
<text x="872" y="346.8">8800.000</text>
<text x="872" y="383.8">8400.000</text>
<text x="872" y="419.8">8000.000</text>
<text x="872" y="455.8">7600.000</text>
<text x="872" y="492.8">7200.000</text>
<text x="872" y="551.8">50.0000</text>
<text x="872" y="584.8">25.0000</text>
<text x="22.3" y="608.8" text-anchor="middle">6</text>
<text x="126.3" y="608.8" text-anchor="middle">12</text>
<text x="248.3" y="608.8" text-anchor="middle">19</text>
<text x="335.3" y="608.8" text-anchor="middle">24</text>
<text x="422.3" y="608.8" text-anchor="middle">Мар</text>
<text x="510.3" y="608.8" text-anchor="middle">6</text>
<text x="614.3" y="608.8" text-anchor="middle">12</text>
<text x="736.3" y="608.8" text-anchor="middle">19</text>
<text x="858.3" y="608.8" text-anchor="middle">26</text>
</g>
<rect x="865" y="325" width="57" height="16" fill="#eb4d5c" shape-rendering="crispEdges"/>
<rect x="865" y="332" width="4" height="1" fill="#ffffff" shape-rendering="crispEdges"/>
<text x="872" y="336.6" font-size="11px" fill="#ffffff">8912.140</text>
<g font-size="12.5px" fill="#000000" stroke="#000000" stroke-width="0.25">
<text x="6.25" y="15.8" textLength="31.3" lengthAdjust="spacingAndGlyphs" fill="#37a3e3" stroke="#37a3e3" stroke-width="0.3">FilFox</text>
<text x="41.3" y="15.8" textLength="83.7" lengthAdjust="spacingAndGlyphs" >опубликовано</text>
<text x="129.5" y="15.8" textLength="13.0" lengthAdjust="spacingAndGlyphs" >на</text>
<text x="147.5" y="15.8" textLength="97.5" lengthAdjust="spacingAndGlyphs" >TradingView.com,</text>
<text x="250.3" y="15.8" textLength="25.7" lengthAdjust="spacingAndGlyphs" >Март</text>
<text x="280.5" y="15.8" textLength="15.8" lengthAdjust="spacingAndGlyphs" >24,</text>
<text x="302" y="15.8" textLength="29.8" lengthAdjust="spacingAndGlyphs" >2018</text>
<text x="337" y="15.8" textLength="31" lengthAdjust="spacingAndGlyphs" >07:47</text>
<text x="372" y="15.8" textLength="25" lengthAdjust="spacingAndGlyphs" >MSK</text>
<text x="6.25" y="33.4" textLength="138" lengthAdjust="spacingAndGlyphs" font-weight="bold" stroke="none">BITSTAMP:BTCUSD, 480</text>
<text x="150" y="33.4" textLength="52" lengthAdjust="spacingAndGlyphs" >8912.140</text>
<polygon points="205.3,25.4 216.7,25.4 211,35.8" fill="#a80000" stroke="none"/>
<text x="220.5" y="33.4" textLength="37.5" lengthAdjust="spacingAndGlyphs" >−8.650</text>
<text x="262.5" y="33.4" textLength="42" lengthAdjust="spacingAndGlyphs" >(−0.1%)</text>
<text x="309" y="33.4" textLength="12" lengthAdjust="spacingAndGlyphs" font-weight="bold" stroke="none">O:</text>
<text x="323" y="33.4" textLength="52.3" lengthAdjust="spacingAndGlyphs" fill="#b22833" stroke="#b22833">8917.990</text>
<text x="380" y="33.4" textLength="12" lengthAdjust="spacingAndGlyphs" font-weight="bold" stroke="none">H:</text>
<text x="394.3" y="33.4" textLength="52.5" lengthAdjust="spacingAndGlyphs" fill="#b22833" stroke="#b22833">8983.930</text>
<text x="451.8" y="33.4" textLength="9" lengthAdjust="spacingAndGlyphs" font-weight="bold" stroke="none">L:</text>
<text x="462" y="33.4" textLength="52.5" lengthAdjust="spacingAndGlyphs" fill="#b22833" stroke="#b22833">8821.740</text>
<text x="519.3" y="33.4" textLength="10" lengthAdjust="spacingAndGlyphs" font-weight="bold" stroke="none">C:</text>
<text x="530.8" y="33.4" textLength="53" lengthAdjust="spacingAndGlyphs" fill="#b22833" stroke="#b22833">8912.140</text>
</g>
<text x="6.25" y="634.3" font-size="12.5px" fill="#000000" stroke="#000000" stroke-width="0.25" textLength="124" lengthAdjust="spacingAndGlyphs">Создано при помощи</text>
<g fill="#57c1e8">
<circle cx="143.6" cy="633.6" r="3.9"/><circle cx="150.6" cy="629.2" r="5.6"/><circle cx="156.8" cy="629.8" r="3.6"/><circle cx="160.2" cy="633.9" r="4.1"/>
<rect x="143.6" y="631" width="16.6" height="7"/>
</g>
<polyline points="140.4,635.8 148.7,628.6 154,636.3 161.4,628.4" fill="none" stroke="#f1f4f7" stroke-width="1.5" stroke-linejoin="round"/>
<text x="170.1" y="634.3" font-size="12.5px" fill="#37a6ef" textLength="70.4" lengthAdjust="spacingAndGlyphs">TradingView</text>
</svg>
</body></html>
